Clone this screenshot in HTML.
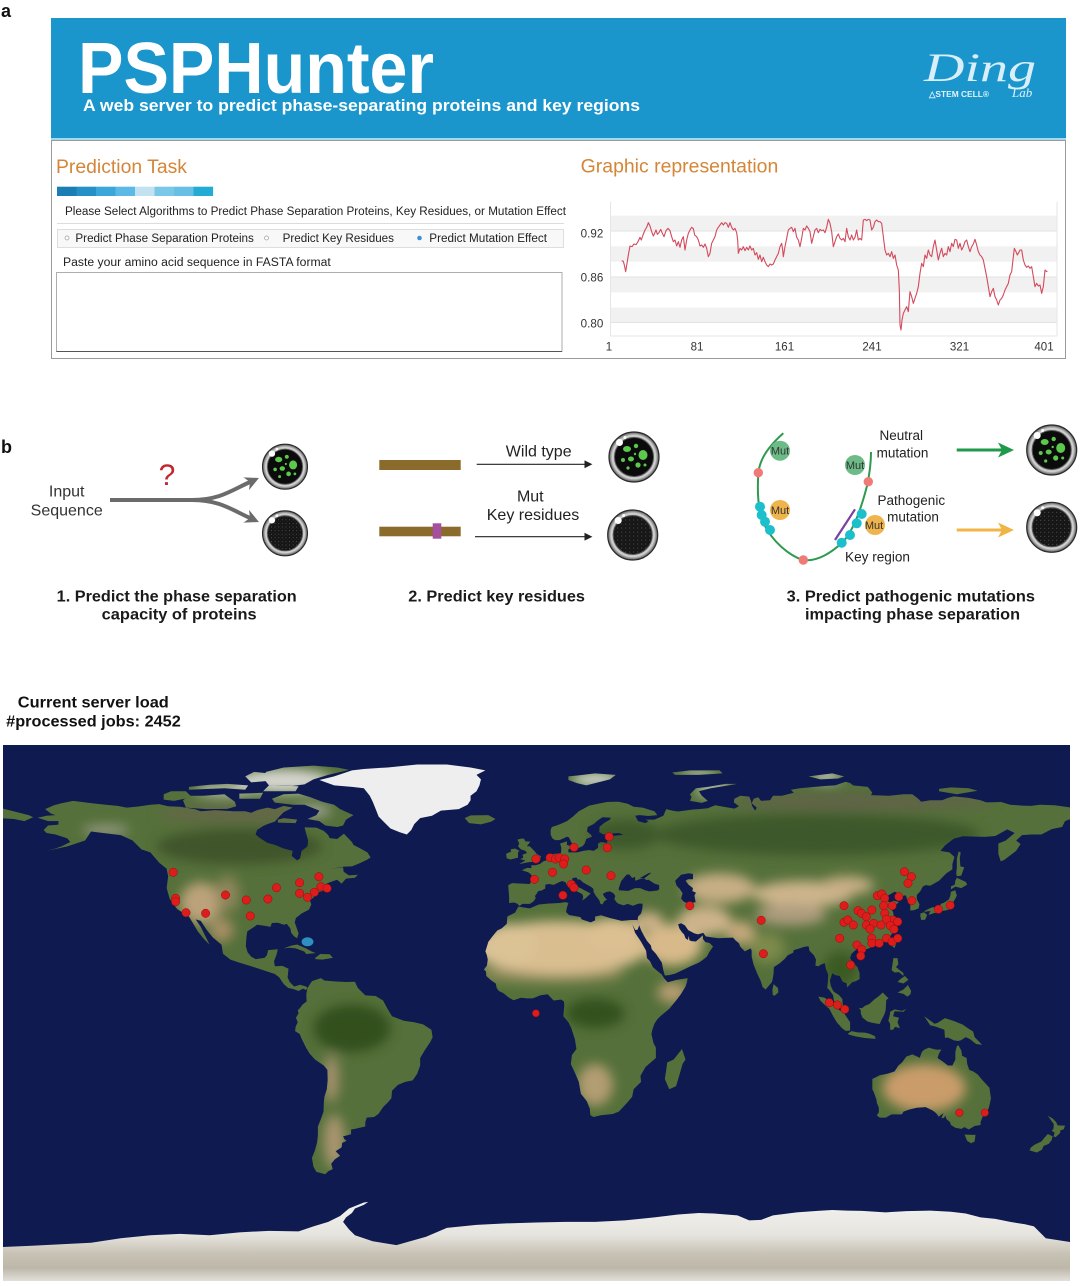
<!DOCTYPE html>
<html><head><meta charset="utf-8">
<style>
html,body{margin:0;padding:0;background:#fff}
svg{display:block}
text{font-family:"Liberation Sans",Arial,Helvetica,sans-serif}
</style></head>
<body>
<svg xmlns="http://www.w3.org/2000/svg" width="1080" height="1286" viewBox="0 0 1080 1286">
<defs>
  <radialGradient id="ring" cx="50%" cy="50%" r="50%">
    <stop offset="0.7" stop-color="#777"/>
    <stop offset="0.78" stop-color="#b5b5b5"/>
    <stop offset="0.86" stop-color="#d5d5d5"/>
    <stop offset="0.94" stop-color="#8c8c8c"/>
    <stop offset="1" stop-color="#4a4a4a"/>
  </radialGradient>
  <pattern id="sp" width="4" height="4" patternUnits="userSpaceOnUse">
    <rect width="4" height="4" fill="#151515"/>
    <circle cx="1" cy="1" r="0.45" fill="#7a7a7a"/>
    <circle cx="3" cy="2.8" r="0.35" fill="#555"/>
  </pattern>
  <g id="cellG">
    <circle r="25" fill="url(#ring)" stroke="#2a2a2a" stroke-width="1.2"/>
    <circle r="19.5" fill="#0b0b0b" stroke="#555" stroke-width="1"/>
    <g fill="#5cc84c">
      <ellipse cx="-7" cy="-8" rx="4" ry="3"/>
      <circle cx="2" cy="-11" r="2.2"/>
      <ellipse cx="9" cy="-2" rx="4.5" ry="5"/>
      <ellipse cx="-3" cy="2" rx="3" ry="2.5"/>
      <circle cx="-11" cy="3" r="2"/>
      <circle cx="4" cy="8" r="2.6"/>
      <circle cx="11" cy="8" r="1.5"/>
      <circle cx="-6" cy="11" r="1.6"/>
      <circle cx="1" cy="-3" r="1.2"/>
    </g>
    <circle cx="-14.5" cy="-14.5" r="3.5" fill="#fff"/>
    <circle cx="-9" cy="-19.5" r="1.5" fill="#fff"/>
  </g>
  <g id="cellD">
    <circle r="25" fill="url(#ring)" stroke="#2a2a2a" stroke-width="1.2"/>
    <circle r="19.5" fill="url(#sp)" stroke="#555" stroke-width="1"/>
    <circle cx="-14.5" cy="-14.5" r="3.5" fill="#fff"/>
    <circle cx="-9" cy="-19.5" r="1.5" fill="#fff"/>
  </g>
  <marker id="mkG" viewBox="0 0 10 10" refX="3" refY="5" markerWidth="14" markerHeight="14" orient="auto" markerUnits="userSpaceOnUse">
    <path d="M0,0 L10,5 L0,10 L3,5 z" fill="#6b6b6b"/>
  </marker>
  <marker id="mkK" viewBox="0 0 10 10" refX="2" refY="5" markerWidth="8" markerHeight="8" orient="auto" markerUnits="userSpaceOnUse">
    <path d="M0,0 L10,5 L0,10 z" fill="#222"/>
  </marker>
  <filter id="bl" x="-10%" y="-10%" width="120%" height="120%"><feGaussianBlur stdDeviation="2"/></filter>
  <linearGradient id="ant" x1="0" y1="0" x2="0" y2="1">
    <stop offset="0" stop-color="#f2f2f0"/>
    <stop offset="0.4" stop-color="#e6e4de"/>
    <stop offset="0.62" stop-color="#c9c3b6"/>
    <stop offset="0.8" stop-color="#bdb7a9"/>
    <stop offset="0.92" stop-color="#dad6ce"/>
    <stop offset="1" stop-color="#ecebe8"/>
  </linearGradient>
  <clipPath id="mapClip"><rect x="3" y="745" width="1067" height="536"/></clipPath>
  <clipPath id="landClip" clipPathUnits="userSpaceOnUse">
    <path d="M-165,-54.5 L-158,-56 -152,-58 -150,-61 -146,-60.5 -140,-59.8 -136,-58 -133,-55 -130,-54 -127,-50.5 -124.5,-48.5 -124,-46 -124.5,-42 -123.5,-38.5 -121,-35 -117,-32.5 -115.5,-30 -114,-27.5 -112,-25 -110,-23 -111.5,-26 -113,-29 -114.7,-31.5 -113,-31 -111,-28 -109,-25.5 -106,-23 -105.5,-20 -103,-18 -100,-17 -96,-15.8 -92,-14.5 -88,-13.2 -86.5,-12 -85.7,-10.8 -85,-9.8 -83.5,-8.5 -82,-8.2 -80,-7.5 -78.5,-8.3 -77.5,-7.8 -77,-8.5 -77.5,-9 -79.5,-9.6 -81.5,-9 -83,-10.5 -83.7,-12 -83.4,-15 -85.5,-15.9 -88,-15.8 -88.3,-17.5 -87.5,-19.5 -87,-21.5 -90.3,-21.2 -90.7,-19.5 -91.5,-18.6 -94.5,-18.2 -96,-19 -97.2,-20.5 -97.8,-22.5 -97.6,-25.5 -97.3,-27.5 -95,-29 -94,-29.7 -91,-29.3 -89.5,-29 -89,-30.3 -87,-30.4 -85,-29.7 -84,-30 -82.8,-28.5 -82.5,-27 -81.5,-25.8 -80.5,-25.2 -80,-26.8 -80.6,-28.5 -81.3,-30.5 -80.9,-32 -79,-33.5 -76.5,-34.8 -75.7,-36.5 -76.2,-38 -75,-38.8 -74,-40.5 -72,-41 -70,-41.7 -70.6,-43.5 -68.5,-44.3 -67,-44.8 -65.5,-43.5 -64,-45.2 -61,-45.5 -60,-46.5 -63,-46.3 -64.8,-47.5 -65,-49 -69,-48.5 -64.5,-49.2 -62,-49.3 -59.5,-50.3 -57,-51.5 -55.7,-52.3 -56.8,-54 -59,-55.2 -61.5,-56.5 -62,-57.5 -64,-59.5 -64.7,-60.3 -67,-58.5 -69.5,-58.8 -70,-59.8 -71.5,-61.2 -74,-62.3 -78,-62.4 -77.5,-60.5 -76.8,-58 -77,-56 -79,-54.5 -79.5,-52 -80.5,-51.3 -82.3,-52.8 -82,-54.5 -85,-55.3 -88,-56.5 -90.5,-57.2 -93,-58.8 -94.5,-60 -94,-61.5 -92,-62.8 -90.5,-63.5 -88,-64.3 -86.5,-66 -85,-67.5 -82,-69 -85,-69.6 -88,-68.5 -90.5,-69 -94,-68.2 -96,-67.3 -98,-67.8 -102,-67.8 -108,-68.2 -113,-67.8 -115,-68.5 -120,-69.3 -124,-69.5 -127,-70.2 -130,-70 -134,-69.4 -138,-69 -141,-69.6 -145,-70 -149,-70.4 -152,-70.8 -156,-71.3 -160,-70.5 -162.5,-69.8 -165.5,-68.5 -163.5,-67 -162,-66.5 -165,-66.3 -168,-65.6 -164.5,-64.5 -161,-64.5 -161,-63.3 -164.5,-63 -166,-61.5 -165,-60.5 -162,-60 -158,-58.7 -157,-57.5 -160,-56 -162,-55.3 Z"/>
    <path d="M-61.5,-66.5 L-64,-65 -65,-63 -67,-62.5 -71,-63 -73,-64.5 -77,-65.2 -74,-66.5 -73,-68 -78,-70 -82,-70 -88,-70.7 -89,-72 -85,-73.5 -80,-73.7 -76,-72.5 -72,-71 -68,-70 -66,-68.5 Z"/>
    <path d="M-118,-69 L-111,-68.5 -104,-68.6 -101,-69.5 -101.5,-71 -105,-73.5 -112,-73 -117,-73 -119,-71.5 Z"/>
    <path d="M-125.5,-71.7 L-122,-71.3 -116,-72.5 -118,-74.5 -123,-74.5 -125.5,-73.5 Z"/>
    <path d="M-90,-76.5 L-82,-76.3 -78,-76.8 -75,-78.5 -70,-80 -63,-81.7 -67,-82.5 -75,-83.1 -85,-82.5 -91,-81 -92,-79 Z"/>
    <path d="M-92,-74.5 L-81,-74.5 -80,-76.2 -90,-76.5 Z"/>
    <path d="M-117,-75 L-105,-75.5 -98,-75 -97,-76.5 -104,-77 -110,-76.7 -117,-76 Z"/>
    <path d="M-96,-77.5 L-90,-78 -90,-80.5 -95,-81 -98,-79.5 Z"/>
    <path d="M-87,-64 L-81,-63.8 -80.5,-65 -85,-65.5 -87,-65 Z"/>
    <path d="M-100,-72 L-93,-72 -92,-74 -100,-73.7 Z"/>
    <path d="M-24,-65.5 L-22,-66.4 -16,-66.5 -13.6,-65.2 -15,-64.3 -18.5,-63.4 -22.5,-63.8 Z"/>
    <path d="M-85,-21.8 L-82.5,-22.7 -80.5,-23.1 -77.5,-21.8 -75.5,-20.7 -74.2,-20.2 -77.5,-19.9 -78,-20.7 -81,-21.8 -83,-22 Z"/>
    <path d="M-74.5,-18.5 L-72.7,-19.9 -69.5,-19.8 -68.4,-18.6 -71,-18.2 -72,-18 -74.3,-18.2 Z"/>
    <path d="M-77,-8.5 L-75.5,-10.8 -72.5,-11.8 -71.3,-11 -68,-10.7 -64,-10.5 -61,-10.6 -60,-8.5 -57.5,-6 -54,-5.8 -51.5,-4.3 -50,-1.5 -48.5,1 -44.5,2.5 -41,3 -38,3.7 -35.2,5.5 -34.8,8 -35.5,9.5 -37.5,12.5 -39,15 -39,17.5 -40,20.3 -41.5,22.5 -44,23 -46.5,24 -48.5,26 -48.7,28.5 -50,30 -51.5,31.5 -53,33.7 -54.5,34.8 -57,35 -57.5,36.5 -57.5,38 -61,38.8 -62.3,39 -62.3,40.6 -65,41.3 -64.5,42.3 -63.8,42.8 -65.3,43.5 -65.5,45 -67.5,46.3 -66,47.8 -67.8,49 -69,50.5 -68.5,52.3 -70,53 -71,54 -74,53.2 -75,51.5 -75.5,48.5 -74.5,46 -73.8,43.5 -73.5,41 -73.5,38 -72.5,35.5 -71.6,33 -71.5,30 -71.3,28 -70.5,25.5 -70.2,22.5 -70.3,19 -71.5,17.5 -74.5,15.5 -76.3,13.5 -77.5,11.5 -79,8.5 -79.6,7 -81.2,6 -81,4.5 -80.3,3 -80.9,1.5 -80,0 -80.3,-1 -79.5,-1.8 -78.6,-3 -77.3,-4 -77.4,-6.5 Z"/>
    <path d="M-5.9,-35.8 L-2,-35.2 1,-36.5 4,-36.8 8,-37 10,-37.3 11,-37 10.5,-35.5 10.2,-34 11.2,-33 15,-32.3 15.5,-31.5 18.5,-30.5 20,-31.2 20,-32.5 22,-32.9 25,-32 29,-31 32,-31.3 34.2,-31.3 34.9,-29.5 34.3,-28 33.5,-28 32.6,-29.9 33.5,-27 35.5,-24 37.2,-21 37.5,-18.5 38.5,-17.5 39.5,-15.5 41,-14.2 42.5,-13 43.3,-11.7 44.5,-10.4 47.5,-11.2 51.2,-11.8 51,-10.5 50.5,-9 49,-6.5 47.5,-4.5 45,-1.5 42,1 41,2 40,3.5 39.3,5.5 39,7 39.7,10 40.5,11.5 40.5,15 37,18 35.3,21 35.5,23 33,25.5 32.5,28 31,29.8 28,33 26,33.8 22,34.2 19.5,34.8 18.4,34.2 18.2,32 17.2,29.5 16.4,28.5 15.2,27 14.5,23 13.2,20 11.8,17 12.2,14 13.7,12 13.2,8.8 12.3,6 12,5 11,3 9.3,1 9.4,-0.5 9.6,-2.5 9.5,-4 8.5,-4.6 6,-4.3 4,-6.4 1.5,-6 -1,-5 -3,-5 -5,-5.2 -7.5,-4.4 -9,-5.2 -11,-6.8 -12.5,-7.5 -13.2,-8.5 -13.5,-10 -15,-11 -16.7,-12.5 -16.8,-14 -17.5,-14.7 -16.5,-16 -16.2,-18 -16.5,-19.5 -17,-20.8 -16,-24 -14.5,-26 -13,-27.8 -11.5,-28.5 -9.8,-30 -9.6,-32.5 -7,-33.8 Z"/>
    <path d="M49.3,12 L50.5,15.5 49.5,17 48.5,20.5 47.3,24.5 45,25.5 43.5,22 44,19 44.3,16.5 46.5,15.5 Z"/>
    <path d="M-9,-37 L-9,-39 -9.3,-43 -8,-43.7 -2,-43.4 -1.3,-45 -1.5,-46.5 -2.5,-47.3 -4.7,-48 -3,-48.8 -1.5,-48.7 -1.5,-49.7 0,-49.7 1.5,-50.2 2.5,-51 4,-51.5 4.5,-52.5 5,-53.3 7,-53.6 8.5,-53.8 8.6,-55.5 8.2,-57 10.5,-57.7 10.5,-56.5 12.5,-55.8 11,-55 11,-54 14,-54 16,-54.5 18,-54.8 19.5,-54.5 21,-55.5 21,-57 22,-57.5 24,-57.2 24.3,-58.4 23.5,-59.2 26,-59.5 29.5,-59.9 28,-60.5 25,-60.3 22.8,-60 21.4,-60.8 21.5,-62.6 23,-63.8 25,-65 25.3,-65.6 22.5,-65.8 21,-64.8 19.5,-63.5 17.5,-62.5 17.3,-61 18.5,-60 19,-59.3 17,-58.5 16.5,-57 15.8,-56.1 14.2,-55.4 12.8,-55.8 12.5,-56.5 11.8,-57.7 11.2,-59 10.5,-59.3 10,-59 8,-58.1 6.5,-58.1 5.5,-58.8 5,-60 5,-61.5 5.4,-62.5 7,-63 8.5,-63.6 10.5,-64.5 12.5,-66 14.5,-67.8 16,-68.6 18,-69.7 21,-70.3 24,-70.9 26,-71 28,-71 31,-70.3 33,-69.3 36,-69 40,-67.8 41,-66.5 38,-66.2 35,-66.5 33.5,-66.3 34.5,-64.5 37,-63.8 38,-64.5 37,-65 40,-65 43,-66.3 44,-68.5 46,-68 48,-67.7 53,-68.4 55,-68.5 58,-68.8 60.5,-69.8 64,-69.2 67,-68.7 68.5,-69.5 66.8,-70.8 67,-72 69,-73 72,-72.7 72.5,-71.5 73,-69.5 74,-68 74.5,-69 72.8,-70.5 73.5,-72 75,-72.5 76,-71.3 79,-71.5 80,-73 83,-73 87,-74 86,-75 89,-75.5 94,-76 98,-76.3 101,-76.5 104.5,-77.7 106,-77.3 107,-76.5 112,-76 113.5,-74 113,-73.2 119,-73 124,-73.5 127,-73.5 129,-72 130,-71 133,-71.5 137,-71.5 139,-72.3 141,-72.8 146,-72.3 150,-71.5 152,-70.8 157,-70.9 160,-70 164,-69.7 167,-69.6 170,-70 175,-69.8 181,-69 181,-65.5 178.5,-64.5 177.5,-62.5 174,-61.8 170.5,-60 167,-60 164,-59.8 162,-58 163.5,-56.8 162,-54.5 160,-53 158,-51.5 156.8,-51 156,-53.5 156,-57 158.5,-58 161.5,-60.5 159,-61.7 155,-59.5 151.5,-59.2 148,-59.3 144,-59.4 141,-58.6 138,-56.3 136.5,-54.5 139.5,-54 141.2,-52.5 140.5,-50 140.5,-48.3 138.5,-47 136,-44.5 133,-42.8 131.5,-43 130.5,-42.5 129.7,-41 128.5,-39.7 128.5,-38.3 129.4,-36.6 129.1,-35.2 127.5,-34.6 126.3,-34.5 126.3,-36.2 126.7,-37.5 125.4,-37.7 124.8,-39.6 122,-39 121.2,-38.8 121.5,-39.5 121.8,-40.5 121,-40.8 119.5,-39.9 118,-39.2 117.6,-38.5 118.8,-37.5 119.5,-37.2 120.7,-37.8 122.5,-37.3 121,-36.1 119.7,-35.3 120.5,-34 120.8,-32.5 121.8,-31.2 121,-30.5 122,-29.8 121.5,-28.3 120.5,-27.2 119.6,-26 118.5,-24.8 117,-23.6 115,-22.8 113.5,-22.3 111.5,-21.5 110,-20.8 110.3,-21.5 108.5,-21.8 106.5,-20 106,-18.5 107,-17 108.5,-15.5 109.2,-13.5 109.2,-11.5 108,-10.8 106.7,-10.4 105,-8.7 104.8,-10.1 103.5,-10.6 102.5,-12.5 101,-12.8 100,-13.4 99.2,-11 99.5,-9.2 100.3,-7.5 101,-6.9 102.2,-6.2 103.4,-4.8 103.5,-3 104.2,-1.4 103.5,-1.3 102.5,-2 101.2,-2.7 100.5,-4.5 100.3,-6 99,-7.8 98.3,-8.5 98.5,-10.5 98.6,-13 97.8,-15 97.5,-16.8 96.5,-16.5 95.3,-15.8 94.3,-16 94.5,-18 93.8,-19.5 92.3,-21 92,-22.5 90.5,-22.3 89,-21.8 87,-21.2 86.8,-20.3 85,-19.5 84,-18.3 82.3,-16.8 80.3,-15.5 80.2,-13.3 79.8,-11 79.5,-10.3 78.3,-8.9 77.5,-8 76.5,-8.8 75.8,-11 74.8,-13 74,-15 73.4,-16.5 72.8,-19 72.8,-21 72.5,-21.8 70.5,-20.8 69,-22.3 68.5,-23.5 67.3,-24.5 66.5,-25.4 64,-25.3 61.5,-25.2 58.5,-25.6 57.3,-25.8 56.5,-27 54.7,-26.5 53.5,-26.8 51.4,-27.9 50.3,-29.5 49,-30.2 48,-29.9 48.4,-28.5 49.3,-27.2 50,-26.5 50.5,-25.2 51.3,-24.6 51.6,-26 51.8,-24.5 52.5,-24.2 54,-24.1 55.5,-25.4 56.3,-26.2 56.4,-24.9 57.2,-23.9 58.6,-23.6 59.8,-22.4 58.5,-20.5 57.7,-19 56.3,-17.9 55,-17 52.2,-15.8 49.5,-14.5 47,-13.3 45,-12.8 43.5,-12.7 43,-14.5 42.7,-16 42.5,-17 41.5,-18.5 40.5,-20 39.1,-21.5 38.8,-22.8 37.5,-24.3 36.5,-26 35.5,-27.9 34.9,-29.5 34.3,-31 34.5,-32.5 35.5,-33.5 35.9,-35 36,-35.8 36,-36.8 34.7,-36.8 32.7,-36.1 31,-36.7 29.6,-36.2 28,-36.7 27.3,-37.2 26.5,-38.3 26.8,-39.4 26.2,-40.3 25,-40.9 23.8,-40.7 23,-40.3 22.6,-40 23.2,-39 24,-38.2 23,-37.5 22.5,-36.5 21.7,-36.9 21.5,-37.8 21,-38.5 20.2,-39.5 19.5,-40.7 19.4,-41.8 18.5,-42.5 17,-43.3 15.8,-44 15,-44.8 14,-45 13.7,-45.6 12.3,-45.3 12.3,-44.5 13.5,-43.5 14,-42.5 15.5,-41.8 16,-41.5 17,-41 18.5,-40.2 17.2,-39 16.6,-38.5 15.7,-37.9 16,-39 15.7,-40 14.5,-40.6 12.5,-41.5 11.2,-42.5 10.5,-43 10,-44 8.8,-44.4 7.5,-43.8 6,-43.1 4.5,-43.4 3.2,-43.2 3.2,-41.9 2,-41.2 0.8,-41 0.2,-40 -0.3,-39.3 0,-38.7 -0.7,-37.6 -2,-36.7 -4.5,-36.7 -5.5,-36 -6.3,-36.8 -7.3,-37.2 -8.8,-37 Z"/>
    <path d="M-181,-69 L-175,-67.5 -171,-66.5 -169.5,-65.8 -172.5,-64.5 -176,-65.2 -181,-65.5 Z"/>
    <path d="M-5.7,-50 L-3,-50.6 1.4,-51.2 1.7,-52.7 0.3,-53.5 -0.5,-54.5 -1.6,-55.6 -2,-56 -3,-56.1 -1.8,-57.6 -3.5,-57.7 -4,-58.6 -5,-58.6 -6.2,-58.3 -5.6,-57 -6,-56 -5,-55 -3.5,-54.5 -3,-53.8 -4.5,-53.2 -4.2,-52.3 -5.2,-51.7 -3.5,-51.3 -5.5,-50.1 Z"/>
    <path d="M-6,-52.2 L-6,-54 -5.5,-54.5 -7,-55.3 -8.5,-55 -8.3,-54.3 -10,-53.5 -9.8,-52 -8.5,-51.6 -6.5,-52.1 Z"/>
    <path d="M11,-78.3 L14,-77.2 17,-76.5 21,-77.5 25,-78.5 27,-80 20,-80.5 14,-79.8 11,-79.5 Z"/>
    <path d="M52,-71.3 L56,-70.6 58,-71.3 56,-73 55,-74.5 59,-75.5 64,-76.3 68,-77 64,-77 58,-76 54,-75.5 52,-73.5 52.5,-72.5 Z"/>
    <path d="M96,-78.5 L102,-78.8 104,-79.5 100,-80.5 96,-80 92,-79.5 Z"/>
    <path d="M47,-80 L55,-80 63,-80.5 62,-81.5 52,-81.5 46,-80.8 Z"/>
    <path d="M136,-74.5 L142,-73.5 149,-74.7 146,-75.5 140,-75.8 136,-75.3 Z"/>
    <path d="M130.9,-34 L132.5,-34.3 135,-33.6 136.8,-34.3 138.5,-34.6 139.8,-35 140.8,-35.8 140.9,-37.5 141.5,-38.5 142,-39.5 141.5,-41.3 140,-40.8 139.8,-39.5 139.3,-38.2 137.5,-37 136.7,-36.8 136,-35.7 133.5,-35.5 131.5,-34.6 Z"/>
    <path d="M140,-41.6 L141.5,-42.5 143.5,-42 145.5,-43.2 145,-44.1 142,-45.5 141.5,-44.5 141.3,-43.2 140,-42.6 Z"/>
    <path d="M130,-31.3 L131.3,-31.4 132,-33 131,-33.9 129.7,-33.5 129.7,-32.5 Z"/>
    <path d="M132.5,-33 L134.7,-33.8 134.3,-34.3 132.9,-34 Z"/>
    <path d="M142,-46 L143.5,-46.2 144.5,-49 143.2,-49.3 143,-52 143.3,-54 142.6,-54.3 142,-52 142,-49 141.8,-47 Z"/>
    <path d="M120.2,-22.5 L121,-21.9 121.9,-24.5 121.7,-25.2 121,-25 120.1,-23.5 Z"/>
    <path d="M108.7,-19 L110.5,-20.1 111,-19.6 110,-18.2 109,-18.3 Z"/>
    <path d="M79.9,-6.2 L80.5,-5.9 81.8,-7 81.7,-8.5 80.2,-9.8 79.8,-8 Z"/>
    <path d="M120,-14.5 L120.6,-18.5 122,-18.5 122.3,-16.5 121.5,-15.5 124,-13.5 124,-12.5 122.5,-13.8 121,-13.7 Z"/>
    <path d="M122,-7 L124,-8 125.5,-9.5 126.6,-7.5 126.3,-6.3 125.3,-5.6 124,-6.5 Z"/>
    <path d="M122,-10.5 L124,-10 125.7,-11.2 124.5,-12.5 123,-11.5 Z"/>
    <path d="M95.3,-5.6 L97.5,-5.2 100.3,-2.5 104,0 106,3 106,5.8 104.5,5.9 103.3,5 101.5,3 100.3,1 99,-1.5 97.5,-2.8 96,-4.2 Z"/>
    <path d="M105.2,6.8 L106.5,6 108.5,6.4 111,6.5 112.7,6.9 114.4,7.7 114.6,8.6 111,8.3 108,7.8 105.7,7.2 Z"/>
    <path d="M109,-1.8 L110,-1.7 111,-2.5 112.5,-3.1 114,-4.5 116,-6 117,-7 119,-5 118.2,-4.5 118,-1 117.5,0.5 116.5,2.4 116,3.6 114.5,3.4 113,3.1 111.8,2.7 110.2,1.5 109.6,0 109.6,-1 Z"/>
    <path d="M119.5,-0.5 L121,-1.3 123.5,-0.8 125,-1.5 124,-0.5 121,-0.7 120.5,1 122.5,1.5 122,3 122.8,5 121.2,4.5 120.5,5.5 119.5,5.5 119.5,3.5 118.9,2.5 119.4,0.5 Z"/>
    <path d="M131,1 L134.5,3.5 135.5,3.2 138,1.6 141,2.6 144,3.8 146,5.2 147.5,6.1 148,8 149.5,9.5 150.5,10.6 148.5,10.3 146.5,8.7 145,8 143.5,9 142.5,9.3 141,9.1 139,8.1 138,8.3 137.8,5.5 135,4.5 133,4 132,2.5 Z"/>
    <path d="M113.5,22 L114,21.8 116,20.8 118.5,20.3 121,19.5 122.3,17.5 123.5,16.5 125,14.5 127,13.8 129.5,14.9 130.2,13 131,12.2 132.6,11.5 133.5,11.8 135,12.2 136.8,12.2 136,13.5 135.5,15 137,16 139,17.5 140.5,17.5 141.5,15.5 141.5,13 142,11 142.5,10.7 143.5,12.5 143.8,14.3 145.3,15 145.5,17 146.2,19 147.5,19.5 149,20.5 150.7,22.5 153,25 153.5,28.5 153,31 152.5,32.5 151,34 150,36.5 150,37.5 148,37.8 146,39 144.6,38.2 143.5,38.8 141.5,38.4 140,37.5 139.7,36.5 138.5,35.5 138.1,34.3 137.7,35.1 136.8,35.2 137.5,33.5 135.9,34.7 135,33.5 134,32.7 131.5,31.5 128.5,31.7 126,32.3 124,33 123.5,33.9 120,33.9 118,35 116,35 115,34.3 115.7,33.2 115.7,31.7 115,30 114.9,29 114,26.5 113.5,25.5 113.5,24 Z"/>
    <path d="M144.6,40.7 L148.3,40.8 148,43 146.8,43.6 145.5,42.8 Z"/>
    <path d="M172.7,34.4 L174.3,35.3 175.5,36.5 176,37.6 178.5,37.7 178,39 177,39.2 176.8,40.2 175.3,41.6 174.6,41.3 175,40 174,39.5 174.6,38.7 174.7,37.2 Z"/>
    <path d="M172.7,40.5 L174.3,41.3 174,42.5 173,43.8 171.3,44.5 170.7,45.8 169,46.7 166.5,46 167,45 168.4,44 170.5,43 171.5,41.8 Z"/>
  </clipPath>
</defs>

<rect width="1080" height="1286" fill="#fff"/>

<text x="1" y="17" font-size="18" font-weight="bold" fill="#111">a</text>
<rect x="51" y="18" width="1015" height="120" fill="#1a96cd"/>
<rect x="51" y="138" width="1015" height="3" fill="#a3d9f0"/>
<text x="78" y="93" font-size="72" font-weight="bold" fill="#fff" textLength="356" lengthAdjust="spacingAndGlyphs">PSPHunter</text>
<text x="83" y="111" font-size="17" font-weight="bold" fill="#fff" textLength="557" lengthAdjust="spacingAndGlyphs">A web server to predict phase-separating proteins and key regions</text>
<text x="924" y="81" style="font-family:'Liberation Serif',serif;font-style:italic" font-size="40" fill="#d8eef8" textLength="112" lengthAdjust="spacingAndGlyphs">Ding</text>
<text x="929" y="97" font-size="8.5" font-weight="bold" fill="#e2f2fa" textLength="60" lengthAdjust="spacingAndGlyphs">△STEM CELL®</text>
<text x="1012" y="97" style="font-family:'Liberation Serif',serif;font-style:italic" font-size="13" fill="#e2f2fa">Lab</text>

<rect x="51.5" y="140.5" width="1014" height="218" fill="none" stroke="#9a9a9a" stroke-width="1"/>

<text x="56" y="173" font-size="19" fill="#d48638" textLength="131" lengthAdjust="spacingAndGlyphs">Prediction Task</text>
<g>
  <rect x="57" y="186.7" width="19.6" height="9.3" fill="#1a7db3"/>
  <rect x="76.5" y="186.7" width="19.6" height="9.3" fill="#2590c8"/>
  <rect x="96" y="186.7" width="19.6" height="9.3" fill="#3ba6da"/>
  <rect x="115.5" y="186.7" width="19.6" height="9.3" fill="#5cb8e4"/>
  <rect x="135" y="186.7" width="19.6" height="9.3" fill="#c2e2f1"/>
  <rect x="154.5" y="186.7" width="19.6" height="9.3" fill="#7ac7e8"/>
  <rect x="174" y="186.7" width="19.6" height="9.3" fill="#68bfe5"/>
  <rect x="193.5" y="186.7" width="19.6" height="9.3" fill="#23abd6"/>
</g>
<text x="65" y="215" font-size="11.5" fill="#222" textLength="501" lengthAdjust="spacingAndGlyphs">Please Select Algorithms to Predict Phase Separation Proteins, Key Residues, or Mutation Effect</text>
<line x1="57" y1="223.5" x2="564" y2="223.5" stroke="#dcdcdc"/>
<rect x="57.5" y="229.5" width="506" height="18" fill="#f8f8f8" stroke="#dedede"/>
<circle cx="67" cy="238" r="2" fill="#fff" stroke="#999" stroke-width="0.7"/>
<text x="75.4" y="242" font-size="11.5" fill="#222" textLength="178.5" lengthAdjust="spacingAndGlyphs">Predict Phase Separation Proteins</text>
<circle cx="266.5" cy="238" r="2" fill="#fff" stroke="#999" stroke-width="0.7"/>
<text x="282.6" y="242" font-size="11.5" fill="#222" textLength="111.4" lengthAdjust="spacingAndGlyphs">Predict Key Residues</text>
<circle cx="419.5" cy="238" r="2.3" fill="#3d8fd8"/>
<text x="429.3" y="242" font-size="11.5" fill="#222" textLength="117.7" lengthAdjust="spacingAndGlyphs">Predict Mutation Effect</text>
<text x="63" y="266" font-size="11.5" fill="#222" textLength="267.8" lengthAdjust="spacingAndGlyphs">Paste your amino acid sequence in FASTA format</text>
<rect x="56.5" y="272.5" width="505.5" height="79" fill="#fff" stroke="#adadad"/>
<line x1="56.5" y1="351.5" x2="562" y2="351.5" stroke="#555"/>

<text x="580.7" y="172.7" font-size="19" fill="#d48638" textLength="197.6" lengthAdjust="spacingAndGlyphs">Graphic representation</text>
<rect x="610.5" y="201.7" width="446.5" height="134.3" fill="#fff"/>
<rect x="610.5" y="215.7" width="446.5" height="15.3" fill="#f1f1f1"/>
<rect x="610.5" y="246.3" width="446.5" height="15.4" fill="#f1f1f1"/>
<rect x="610.5" y="277" width="446.5" height="15.3" fill="#f1f1f1"/>
<rect x="610.5" y="307.7" width="446.5" height="15.3" fill="#f1f1f1"/>
<line x1="610.5" y1="231" x2="1057" y2="231" stroke="#e2e2e2"/>
<line x1="610.5" y1="277" x2="1057" y2="277" stroke="#e2e2e2"/>
<line x1="610.5" y1="322.5" x2="1057" y2="322.5" stroke="#e2e2e2"/>
<line x1="610.5" y1="201.7" x2="610.5" y2="336" stroke="#e6e6e6"/>
<line x1="1057" y1="201.7" x2="1057" y2="336" stroke="#e6e6e6"/>
<line x1="610.5" y1="336" x2="1057" y2="336" stroke="#e6e6e6"/>
<g font-size="11.5" fill="#333">
  <text x="580.7" y="237.3" textLength="22.6" lengthAdjust="spacingAndGlyphs">0.92</text>
  <text x="580.7" y="281.7" textLength="22.6" lengthAdjust="spacingAndGlyphs">0.86</text>
  <text x="580.7" y="327.3" textLength="22.6" lengthAdjust="spacingAndGlyphs">0.80</text>
</g>
<g font-size="11.5" fill="#333" text-anchor="middle">
  <text x="609" y="350.7">1</text>
  <text x="697" y="350.7">81</text>
  <text x="784.5" y="350.7">161</text>
  <text x="872" y="350.7">241</text>
  <text x="959.5" y="350.7">321</text>
  <text x="1044" y="350.7">401</text>
</g>
<g transform="translate(570,140) scale(0.33333)">
<polyline fill="none" stroke="#d24a5c" stroke-width="1.1" vector-effect="non-scaling-stroke" stroke-linejoin="round" points="155,362 160,364 163,375 167,395 171,370 175,345 180,318 186,320 192,312 198,314 204,305 210,292 214,300 219,285 225,270 230,262 235,248 240,258 245,275 250,288 254,280 258,270 262,283 267,278 272,268 277,280 282,290 288,272 294,265 300,272 305,290 310,305 315,300 320,318 325,305 330,322 335,300 340,290 345,330 350,300 355,280 360,270 365,262 370,266 374,285 380,290 385,300 390,318 395,315 400,322 405,312 410,325 415,350 420,340 425,310 430,300 435,290 440,270 445,262 450,255 455,248 460,255 465,248 470,250 475,262 480,248 485,262 490,270 495,265 500,278 503,300 505,340 510,325 515,330 520,320 525,332 530,322 535,330 540,318 545,330 550,325 555,345 560,338 565,358 570,345 575,365 580,352 585,365 590,375 595,380 600,372 605,375 610,372 615,360 620,350 625,340 630,320 635,310 638,330 640,350 645,320 650,295 655,270 660,265 665,262 670,275 675,265 680,292 685,300 690,320 695,295 700,265 705,270 710,258 715,265 720,275 725,310 730,290 735,270 740,265 745,278 750,268 755,272 760,270 765,278 770,262 775,238 780,250 785,275 790,320 795,305 800,290 805,282 810,295 815,300 820,295 825,305 830,265 835,290 840,300 845,285 850,300 855,292 860,270 865,300 870,295 875,300 880,240 885,238 890,242 895,238 900,240 905,270 910,262 915,245 920,240 925,245 930,245 935,250 940,290 945,330 950,345 955,340 960,350 965,335 970,355 975,345 980,375 985,390 988,450 990,555 993,570 996,540 1000,520 1005,510 1010,500 1015,515 1020,455 1025,470 1030,490 1035,475 1040,460 1045,440 1050,400 1055,370 1060,380 1065,345 1070,355 1075,330 1080,345 1085,350 1090,320 1095,300 1100,330 1105,360 1110,340 1115,325 1120,350 1125,340 1130,345 1135,320 1140,335 1145,310 1150,320 1155,298 1160,300 1165,325 1170,310 1175,330 1180,320 1185,305 1190,300 1195,320 1200,335 1205,320 1210,312 1215,298 1220,315 1225,335 1230,345 1235,350 1240,360 1245,385 1250,410 1255,440 1260,470 1265,455 1270,445 1275,470 1280,480 1285,495 1290,480 1295,475 1300,465 1305,450 1310,440 1315,430 1320,405 1325,395 1330,350 1333,325 1338,335 1342,345 1345,340 1350,330 1355,330 1360,360 1365,375 1370,382 1375,378 1380,385 1385,380 1390,410 1395,440 1400,430 1405,438 1410,435 1415,460 1420,440 1425,390 1430,395 1432,393"/>
</g>

<text x="1" y="453" font-size="18" font-weight="bold" fill="#111">b</text>

<g font-size="16" fill="#333" text-anchor="middle">
  <text x="66.7" y="496.7">Input</text>
  <text x="66.7" y="515.5">Sequence</text>
</g>
<path d="M110,500 L192,500 C220,500 232,490 250,482" fill="none" stroke="#6b6b6b" stroke-width="4" marker-end="url(#mkG)"/>
<path d="M192,500 C220,500 232,510 250,518" fill="none" stroke="#6b6b6b" stroke-width="4" marker-end="url(#mkG)"/>
<text x="167" y="485" font-size="30" fill="#c1272d" text-anchor="middle">?</text>
<use href="#cellG" transform="translate(285,466.7) scale(0.9)"/>
<use href="#cellD" transform="translate(285,533.3) scale(0.9)"/>
<g font-size="16" font-weight="bold" fill="#1a1a1a">
  <text x="56.7" y="601.5" textLength="240" lengthAdjust="spacingAndGlyphs">1. Predict the phase separation</text>
  <text x="101.7" y="619.5" textLength="155" lengthAdjust="spacingAndGlyphs">capacity of proteins</text>
</g>

<rect x="379.3" y="460" width="81.4" height="10" fill="#8a6b2b"/>
<rect x="379.3" y="526.7" width="81.4" height="9.6" fill="#8a6b2b"/>
<rect x="432.7" y="523.3" width="8.6" height="15.4" fill="#a4509e"/>
<line x1="476.7" y1="464.3" x2="586" y2="464.3" stroke="#222" stroke-width="1.2" marker-end="url(#mkK)"/>
<line x1="475" y1="536.7" x2="586" y2="536.7" stroke="#222" stroke-width="1.2" marker-end="url(#mkK)"/>
<g font-size="16" fill="#222" text-anchor="middle">
  <text x="538.7" y="456.7">Wild type</text>
  <text x="530.3" y="501.7">Mut</text>
  <text x="533" y="520">Key residues</text>
</g>
<use href="#cellG" transform="translate(634,457)"/>
<use href="#cellD" transform="translate(632.7,535)"/>
<text x="408.3" y="601.5" font-size="16" font-weight="bold" fill="#1a1a1a" textLength="176.7" lengthAdjust="spacingAndGlyphs">2. Predict key residues</text>

<path d="M783.3,433.3 C770,445 760,458 758.5,472 C757,490 758,510 763,522 C772,542 790,556 803,560 C818,562 832,552 843,542 C855,528 862,505 867,486 C870,472 871,460 871,452" fill="none" stroke="#2e9a50" stroke-width="2"/>
<line x1="835" y1="540" x2="855" y2="509.3" stroke="#7b3fa0" stroke-width="2.2"/>
<g fill="#f07a78">
  <circle cx="758.3" cy="472.7" r="4.7"/>
  <circle cx="803.3" cy="560" r="4.7"/>
  <circle cx="868.3" cy="481.7" r="4.7"/>
</g>
<g fill="#1cbfcc">
  <circle cx="760" cy="506.7" r="5"/>
  <circle cx="761.7" cy="515" r="5"/>
  <circle cx="765" cy="521.7" r="5"/>
  <circle cx="770" cy="530" r="5"/>
  <circle cx="861.7" cy="514" r="5"/>
  <circle cx="856.7" cy="523.3" r="5"/>
  <circle cx="850" cy="535" r="5"/>
  <circle cx="841.7" cy="542.7" r="5"/>
</g>
<circle cx="780" cy="450.7" r="10" fill="#6dbb86"/>
<circle cx="855" cy="465" r="10" fill="#6dbb86"/>
<circle cx="780" cy="510" r="10" fill="#f0b44c"/>
<circle cx="875" cy="525" r="10" fill="#f0b44c"/>
<g font-size="11" fill="#333" text-anchor="middle">
  <text x="780" y="454.5">Mut</text>
  <text x="855" y="469">Mut</text>
  <text x="780" y="514">Mut</text>
  <text x="874" y="529">Mut</text>
</g>
<g font-size="13.5" fill="#222" text-anchor="middle">
  <text x="901.3" y="440">Neutral</text>
  <text x="902.5" y="457.3">mutation</text>
  <text x="911.3" y="505">Pathogenic</text>
  <text x="913" y="521.7">mutation</text>
</g>
<text x="845" y="561.7" font-size="13.5" fill="#222" textLength="65" lengthAdjust="spacingAndGlyphs">Key region</text>
<line x1="956.7" y1="450" x2="1002" y2="450" stroke="#1f9a4a" stroke-width="3"/>
<polygon points="998,442.5 1014,450 998,457.5 1002,450" fill="#1f9a4a"/>
<line x1="956.7" y1="530" x2="1002" y2="530" stroke="#f0b545" stroke-width="3"/>
<polygon points="998,522.5 1014,530 998,537.5 1002,530" fill="#f0b545"/>
<use href="#cellG" transform="translate(1051.7,450)"/>
<use href="#cellD" transform="translate(1051.7,527.3)"/>
<g font-size="16" font-weight="bold" fill="#1a1a1a">
  <text x="786.7" y="601.5" textLength="248.3" lengthAdjust="spacingAndGlyphs">3. Predict pathogenic mutations</text>
  <text x="805" y="619.5" textLength="215" lengthAdjust="spacingAndGlyphs">impacting phase separation</text>
</g>

<text x="93.3" y="707.3" font-size="16" font-weight="bold" fill="#111" text-anchor="middle" textLength="151" lengthAdjust="spacingAndGlyphs">Current server load</text>
<text x="6.2" y="726.7" font-size="16" font-weight="bold" fill="#111" textLength="174.6" lengthAdjust="spacingAndGlyphs">#processed jobs: 2452</text>

<g clip-path="url(#mapClip)">
  <rect x="3" y="745" width="1067" height="536" fill="#0e1a50"/>
  <g transform="translate(535.8,1013.3) scale(2.965,2.98)">
    <g clip-path="url(#landClip)">
      <rect x="-182" y="-90" width="364" height="180" fill="#55703a"/>
      <g filter="url(#bl)">
        <ellipse cx="5" cy="-13" rx="25" ry="3" fill="#8f8c5a"/>
        <ellipse cx="8" cy="-22" rx="30" ry="9" fill="#d9be90"/>
        <ellipse cx="-9" cy="-23" rx="9" ry="7" fill="#dcc396"/>
        <ellipse cx="26" cy="-26" rx="10" ry="6" fill="#dcc092"/>
        <ellipse cx="46" cy="-23" rx="10" ry="7" fill="#d8b98a"/>
        <ellipse cx="38" cy="-31" rx="5" ry="3" fill="#cdb089"/>
        <ellipse cx="57" cy="-31" rx="9" ry="5" fill="#cdb38b"/>
        <ellipse cx="62" cy="-42" rx="12" ry="5" fill="#c7ae85"/>
        <ellipse cx="90" cy="-40" rx="17" ry="4.5" fill="#cdb48c"/>
        <ellipse cx="105" cy="-43" rx="9" ry="3" fill="#c8ae86"/>
        <ellipse cx="86" cy="-33" rx="12" ry="3.5" fill="#ad9c7e"/>
        <ellipse cx="69" cy="-27" rx="5" ry="4" fill="#c4a87c"/>
        <ellipse cx="-113" cy="-37" rx="7" ry="7" fill="#bba27a"/>
        <ellipse cx="-104" cy="-40" rx="4" ry="6" fill="#8f865c"/>
        <ellipse cx="-106" cy="-28" rx="4" ry="4" fill="#a88f66"/>
        <ellipse cx="20" cy="24" rx="6" ry="7" fill="#b39d72"/>
        <ellipse cx="46" cy="-7" rx="5" ry="3.5" fill="#b89d72"/>
        <ellipse cx="131" cy="25" rx="14" ry="8" fill="#c99c6a"/>
        <ellipse cx="-68" cy="43" rx="3.5" ry="9" fill="#aa9571"/>
        <ellipse cx="-69" cy="22" rx="2.5" ry="8" fill="#a89270"/>
        <ellipse cx="95" cy="-60" rx="55" ry="7" fill="#3e5829"/>
        <ellipse cx="30" cy="-60" rx="12" ry="5" fill="#3e5829"/>
        <ellipse cx="-100" cy="-56" rx="28" ry="6" fill="#3f5529"/>
        <ellipse cx="-62" cy="5" rx="13" ry="8" fill="#30501c"/>
        <ellipse cx="20" cy="0" rx="10" ry="5" fill="#33511e"/>
        <ellipse cx="103" cy="-15" rx="6" ry="6" fill="#3a5a22"/>
        <ellipse cx="-100" cy="-67" rx="28" ry="2.5" fill="#66664a"/>
        <ellipse cx="110" cy="-71" rx="45" ry="2.5" fill="#62624a"/>
        <ellipse cx="-85" cy="-78" rx="16" ry="4" fill="#d5d5cf"/>
        <ellipse cx="-105" cy="-75" rx="10" ry="2" fill="#c4c4b8"/>
        <ellipse cx="-75" cy="-68" rx="6" ry="2" fill="#a4a49a"/>
        <ellipse cx="20" cy="-78.5" rx="8" ry="2" fill="#e6e6e6"/>
        <ellipse cx="60" cy="-75" rx="6" ry="2" fill="#d0d0c8"/>
        <ellipse cx="98" cy="-79.5" rx="5" ry="1.5" fill="#e0e0e0"/>
        <ellipse cx="55" cy="-80.5" rx="6" ry="1" fill="#e6e6e6"/>
        <ellipse cx="78" cy="-22" rx="6" ry="5" fill="#7d8a4b"/>
        <ellipse cx="-145" cy="-61.5" rx="8" ry="1.5" fill="#a0a090"/>
      </g>
    </g>
    <path d="M28,-41.3 L29,-41.2 31.2,-41.1 33.5,-42 35.2,-42 36.9,-41.3 38.3,-40.9 41,-41.2 41.6,-41.6 41.6,-43 40,-43.5 38,-44.8 37.3,-44.7 36.5,-45.3 35,-45 33.5,-44.5 33.5,-45.8 32.5,-45.4 31.5,-46.6 30.6,-46.5 29.6,-45.3 28.8,-44.4 28.5,-43.5 28,-42 Z" fill="#0e1a50"/>
    <path d="M35,-45.3 L38,-47 39,-47.2 37.5,-46 36.6,-45.3 Z" fill="#0e1a50"/>
    <path d="M47,-44.5 L49,-46.5 51.5,-47 53,-46.8 53,-45 51.3,-45 50.5,-44.5 51.5,-43.2 53,-42 52.8,-41 54,-40.5 53.5,-39.5 53.9,-37.3 51.5,-36.8 50,-37.4 49,-38.5 49.5,-40.3 48.5,-41.8 47.5,-42.8 Z" fill="#0e1a50"/>
    <ellipse cx="-77" cy="-24" rx="2" ry="1.5" fill="#2f8fc0"/>
    <path d="M-73,-78.3 L-68,-76.5 -62,-76 -58,-75.5 -56,-73 -55,-71 -54,-68.5 -53,-66 -51,-64 -49,-62 -46,-60.8 -43.5,-60 -42,-61.5 -41,-63.5 -39,-65.5 -35,-66.3 -32,-68 -26,-68.5 -23,-70 -22,-71.5 -22,-73 -20,-74.5 -19,-76.5 -18.5,-78.5 -20,-80 -17,-81.5 -22,-82.5 -30,-83.5 -40,-83.5 -50,-82.5 -58,-82 -62,-81.5 -65,-80.5 -68,-79.5 Z" fill="#eeeeee"/>
    <path d="M-182,91 L-182,78.5 -170,78 -160,77.5 -150,77 -140,75.5 -130,74.5 -120,74 -110,74.5 -100,73.5 -90,73 -80,73.2 -75,71.5 -70,70 -66,68 -63,65.5 -58,63.5 -56.5,63.3 -58,64.3 -61,65.5 -62,67 -64,68.5 -65,70 -63,72.5 -61,74.5 -55,76.5 -47,77.8 -37,75 -30,72 -20,71 -10,70.5 0,70.2 10,70 20,70 30,69.5 40,68.5 48,67.5 55,67 60,67.2 68,67.8 72,69.5 76,69.3 80,67.8 88,66.8 95,66.3 100,66 105,66.2 110,66.3 118,66.8 125,66.4 133,66.2 140,66.6 145,67.2 150,68.5 155,69 160,70 165,70.8 168,71.5 172,75.5 182,77 182,91 Z" fill="url(#ant)"/>
  </g>
  <g fill="#dd1c1c" stroke="#9a0c0c" stroke-width="0.5">
    <circle cx="173.2" cy="872.3" r="4.2"/><circle cx="175.6" cy="898.3" r="4.2"/><circle cx="175.6" cy="901.7" r="4.2"/><circle cx="186" cy="912.7" r="4.2"/><circle cx="205.6" cy="913.3" r="4.2"/><circle cx="225.5" cy="895" r="4.2"/><circle cx="246.2" cy="900" r="4.2"/><circle cx="250.3" cy="916" r="4.2"/><circle cx="267.9" cy="899" r="4.2"/><circle cx="276.5" cy="887.7" r="4.2"/><circle cx="299.6" cy="882.7" r="4.2"/><circle cx="318.9" cy="876.7" r="4.2"/><circle cx="299.6" cy="893.3" r="4.2"/><circle cx="307.5" cy="897.3" r="4.2"/><circle cx="314.4" cy="892.3" r="4.2"/><circle cx="320.9" cy="886.7" r="4.2"/><circle cx="327.1" cy="888.3" r="4.2"/>
    <circle cx="535.9" cy="859" r="4.2"/><circle cx="534.4" cy="879.3" r="4.2"/><circle cx="550" cy="857.7" r="4.2"/><circle cx="555.5" cy="859" r="4.2"/><circle cx="559.2" cy="857.7" r="4.2"/><circle cx="564.7" cy="859" r="4.2"/><circle cx="563.6" cy="864" r="4.2"/><circle cx="552.5" cy="872.3" r="4.2"/><circle cx="574" cy="847.3" r="4.2"/><circle cx="586.2" cy="870" r="4.2"/><circle cx="609.1" cy="836.7" r="4.2"/><circle cx="607.3" cy="847.7" r="4.2"/><circle cx="611" cy="875.7" r="4.2"/><circle cx="571.4" cy="884.3" r="4.2"/><circle cx="574" cy="887.7" r="4.2"/><circle cx="562.9" cy="895.3" r="4.2"/>
    <circle cx="689.8" cy="905.7" r="4.2"/><circle cx="761.2" cy="920.3" r="4.2"/><circle cx="763.4" cy="953.7" r="4.2"/>
    <circle cx="904.4" cy="871.7" r="4.2"/><circle cx="911.4" cy="876.7" r="4.2"/><circle cx="908" cy="883.3" r="4.2"/><circle cx="938.4" cy="909.3" r="4.2"/><circle cx="950.2" cy="905.3" r="4.2"/>
    <circle cx="877.4" cy="895.7" r="4.2"/><circle cx="881.8" cy="894" r="4.2"/><circle cx="884.8" cy="898.3" r="4.2"/><circle cx="898.8" cy="896.7" r="4.2"/><circle cx="911.8" cy="900.7" r="4.2"/><circle cx="844" cy="905.7" r="4.2"/><circle cx="858.1" cy="910.7" r="4.2"/><circle cx="861.5" cy="913.3" r="4.2"/><circle cx="871.8" cy="910" r="4.2"/><circle cx="883.6" cy="905.7" r="4.2"/><circle cx="892.2" cy="905.7" r="4.2"/><circle cx="866.3" cy="916.7" r="4.2"/><circle cx="884.8" cy="913.3" r="4.2"/><circle cx="892.9" cy="920" r="4.2"/><circle cx="897.7" cy="921.7" r="4.2"/><circle cx="886.6" cy="919.3" r="4.2"/><circle cx="844" cy="922.3" r="4.2"/><circle cx="847.8" cy="920" r="4.2"/><circle cx="853.3" cy="925" r="4.2"/><circle cx="866.3" cy="925" r="4.2"/><circle cx="873.7" cy="923.3" r="4.2"/><circle cx="870" cy="929" r="4.2"/><circle cx="881" cy="925" r="4.2"/><circle cx="890.3" cy="925.7" r="4.2"/><circle cx="894" cy="929.3" r="4.2"/><circle cx="839.6" cy="938.3" r="4.2"/><circle cx="857" cy="945" r="4.2"/><circle cx="861.8" cy="949.3" r="4.2"/><circle cx="860.7" cy="956" r="4.2"/><circle cx="871.8" cy="938.3" r="4.2"/><circle cx="871.8" cy="943.3" r="4.2"/><circle cx="879.2" cy="943.3" r="4.2"/><circle cx="886.6" cy="938.3" r="4.2"/><circle cx="892.2" cy="941.7" r="4.2"/><circle cx="897.7" cy="938.3" r="4.2"/><circle cx="850.7" cy="965" r="4.2"/>
    <circle cx="829.3" cy="1002.7" r="4.2"/><circle cx="837.4" cy="1005" r="4.2"/><circle cx="844.8" cy="1009.3" r="4.2"/>
    <circle cx="535.9" cy="1013.3" r="3.6"/>
    <circle cx="959.4" cy="1112.7" r="3.8"/><circle cx="984.8" cy="1112.7" r="3.8"/>
  </g>
</g>
</svg>
</body></html>
